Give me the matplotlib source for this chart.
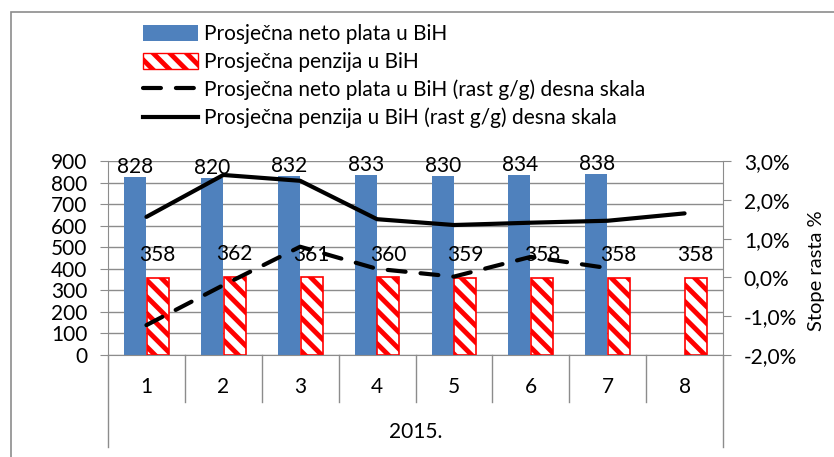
import numpy as np
import matplotlib.pyplot as plt
from matplotlib.patches import Patch, Rectangle
from matplotlib.lines import Line2D
import matplotlib.transforms as mtransforms

plt.rcParams['font.family'] = ['Lato', 'DejaVu Sans']
plt.rcParams['hatch.linewidth'] = 3.5
plt.rcParams['hatch.color'] = 'red'

mjeseci = ['1', '2', '3', '4', '5', '6', '7', '8']
godina = '2015.'
neto_plata = [828, 820, 832, 833, 830, 834, 838, np.nan]
penzija = [358, 362, 361, 360, 359, 358, 358, 358]
rast_plata = [-1.23, -0.2, 0.79, 0.22, 0.02, 0.53, 0.24, np.nan]
rast_penzija = [1.56, 2.64, 2.49, 1.5, 1.35, 1.41, 1.46, 1.65]

lijeve_oznake = [0, 100, 200, 300, 400, 500, 600, 700, 800, 900]
desne_oznake = [-2, -1, 0, 1, 2, 3]

FS = 15

fig = plt.figure(figsize=(8.34, 4.57), dpi=100)
ax = fig.add_axes([108/834, 1 - 355/457, (723-108)/834, (355-161)/457])
ax2 = ax.twinx()

x = np.arange(len(mjeseci))
w = 0.286
ax.bar(x - w/2 - 0.005, neto_plata, w, color='#4f81bd', zorder=2)
ax.bar(x + w/2 + 0.005, penzija, w, color='white', edgecolor='red', hatch='\\\\',
       linewidth=1.2, zorder=2)

for i, v in enumerate(neto_plata):
    if not np.isnan(v):
        ax.annotate(str(int(v)), (x[i] - w/2, v), xytext=(0, 0), textcoords='offset points',
                    ha='center', va='bottom', fontsize=FS, zorder=5)
for i, v in enumerate(penzija):
    ax.annotate(str(v), (x[i] + w/2, v), xytext=(0, 9), textcoords='offset points',
                ha='center', va='bottom', fontsize=FS, zorder=5)

ax2.plot(x, rast_plata, color='black', lw=3, linestyle=(0, (4.3, 3.6)),
         dash_capstyle='round', solid_capstyle='round', zorder=4)
ax2.plot(x, rast_penzija, color='black', lw=3, solid_capstyle='round', zorder=4)

ax.set_xlim(-0.5, len(mjeseci) - 0.5)
ax.set_ylim(0, 900)
ax.set_yticks(lijeve_oznake)
ax2.set_ylim(-2, 3)
ax2.set_yticks(desne_oznake)
ax2.set_yticklabels([f'{v:.1f}%'.replace('.', ',') for v in desne_oznake])
ax2.set_ylabel('Stope rasta %', fontsize=14.5)
ax2.yaxis.set_label_coords(1.138, 0.433)

ax.grid(axis='y', color='#8c8c8c', lw=1, zorder=0)
ax.set_axisbelow(True)
for a in (ax, ax2):
    for s in a.spines.values():
        s.set_visible(False)
ax.spines['left'].set_visible(True)
ax.spines['left'].set_color('#8c8c8c')
ax.spines['bottom'].set_visible(True)
ax.spines['bottom'].set_color('#8c8c8c')
ax2.spines['right'].set_visible(True)
ax2.spines['right'].set_color('#8c8c8c')

ax.tick_params(axis='y', labelsize=FS, length=6, color='#8c8c8c', pad=9)
ax2.tick_params(axis='y', labelsize=FS, length=6, color='#8c8c8c', pad=9)
ax.set_xticks([])

# kategorije na x osi
trans = mtransforms.blended_transform_factory(ax.transData, ax.transAxes)
for i, m in enumerate(mjeseci):
    ax.text(x[i], -0.165, m, transform=trans, ha='center', va='center', fontsize=FS)
for b in np.arange(len(mjeseci) + 1) - 0.5:
    dno = -0.475 if b in (-0.5, len(mjeseci) - 0.5) else -0.24
    ax.plot([b, b], [0, dno], transform=trans, color='#8c8c8c', lw=1, clip_on=False)
ax.text(np.mean(x), -0.397, godina, transform=trans, ha='center', va='center', fontsize=FS)

# okvir grafikona (desno i dolje izlazi iz slike)
fig.patches.append(Rectangle((11/834, -0.1), 1.0, 1.1 - 12/457, transform=fig.transFigure,
                             fill=False, edgecolor='#8c8c8c', lw=1.2))

handles = [Patch(facecolor='#4f81bd'),
           Patch(facecolor='white', edgecolor='red', hatch='\\\\'),
           Line2D([], [], color='black', lw=3, linestyle=(0, (4.3, 3.6)), dash_capstyle='round'),
           Line2D([], [], color='black', lw=3)]
labels = ['Prosječna neto plata u BiH', 'Prosječna penzija u BiH',
          'Prosječna neto plata u BiH (rast g/g) desna skala',
          'Prosječna penzija u BiH (rast g/g) desna skala']
fig.legend(handles, labels, loc='upper left', bbox_to_anchor=(133/834, 1 - 14/457),
           frameon=False, fontsize=FS, handlelength=2.6, handleheight=0.8,
           handletextpad=0.3, labelspacing=0.36, borderpad=0)

fig.savefig('out.png', dpi=100)
